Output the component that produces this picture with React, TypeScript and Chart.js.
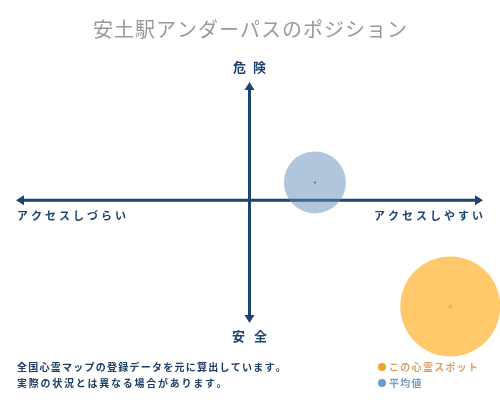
import { Chart, registerables } from 'chart.js'
import type { Plugin } from 'chart.js'
import { useEffect, useRef } from 'react'

Chart.register(...registerables)

const TITLE = '安土駅アンダーパスのポジション'
const AXIS_TOP = '危険'
const AXIS_BOTTOM = '安全'
const AXIS_LEFT = 'アクセスしづらい'
const AXIS_RIGHT = 'アクセスしやすい'
const NOTES = ['全国心霊マップの登録データを元に算出しています。', '実際の状況とは異なる場合があります。']

const SERIES_NAMES = ['この心霊スポット', '平均値']
// access (x), danger (y), bubble size
const SPOT_POINT = { x: 0.86, y: -0.9, size: 50 }
const AVERAGE_POINT = { x: 0.28, y: 0.15, size: 31 }

const NAVY = '#1b4470'
const FONT = '"Noto Sans CJK JP", "Noto Sans", sans-serif'

function spacedText(
  ctx: CanvasRenderingContext2D,
  text: string,
  x: number,
  y: number,
  spacing: number,
  align: 'left' | 'center' | 'right',
) {
  const chars = [...text]
  const widths = chars.map((c) => ctx.measureText(c).width)
  const total = widths.reduce((a, b) => a + b, 0) + spacing * (chars.length - 1)
  let cx = align === 'left' ? x : align === 'center' ? x - total / 2 : x - total
  ctx.textAlign = 'left'
  chars.forEach((c, i) => {
    ctx.fillText(c, cx, y)
    cx += widths[i] + spacing
  })
}

function arrowHead(ctx: CanvasRenderingContext2D, x: number, y: number, angle: number) {
  ctx.save()
  ctx.translate(x, y)
  ctx.rotate(angle)
  ctx.beginPath()
  ctx.moveTo(0, 0)
  ctx.lineTo(-8, -5)
  ctx.lineTo(-8, 5)
  ctx.closePath()
  ctx.fill()
  ctx.restore()
}

const axesPlugin: Plugin<'bubble'> = {
  id: 'positionAxes',
  beforeDatasetsDraw(chart) {
    const { ctx, chartArea, scales } = chart
    const x0 = scales.x.getPixelForValue(0)
    const y0 = scales.y.getPixelForValue(0)
    ctx.save()
    ctx.strokeStyle = NAVY
    ctx.fillStyle = NAVY
    ctx.lineWidth = 3
    ctx.beginPath()
    ctx.moveTo(chartArea.left + 4, y0)
    ctx.lineTo(chartArea.right - 4, y0)
    ctx.moveTo(x0, chartArea.top + 4)
    ctx.lineTo(x0, chartArea.bottom - 4)
    ctx.stroke()
    arrowHead(ctx, chartArea.left, y0, Math.PI)
    arrowHead(ctx, chartArea.right, y0, 0)
    arrowHead(ctx, x0, chartArea.top, -Math.PI / 2)
    arrowHead(ctx, x0, chartArea.bottom, Math.PI / 2)
    ctx.restore()
  },
  afterDraw(chart) {
    const { ctx, chartArea, scales } = chart
    const x0 = scales.x.getPixelForValue(0)
    const y0 = scales.y.getPixelForValue(0)
    ctx.save()
    ctx.textBaseline = 'middle'

    ctx.fillStyle = '#999999'
    ctx.font = `20px ${FONT}`
    spacedText(ctx, TITLE, 250, 29, 1, 'center')

    ctx.fillStyle = NAVY
    ctx.font = `bold 13px ${FONT}`
    spacedText(ctx, AXIS_TOP, x0, chartArea.top - 15, 7, 'center')
    spacedText(ctx, AXIS_BOTTOM, x0, chartArea.bottom + 13, 9, 'center')
    ctx.font = `bold 11px ${FONT}`
    spacedText(ctx, AXIS_LEFT, chartArea.left + 1, y0 + 16, 3, 'left')
    spacedText(ctx, AXIS_RIGHT, chartArea.right, y0 + 16, 3, 'right')

    ctx.font = `bold 10px ${FONT}`
    ctx.fillStyle = '#1e3d66'
    spacedText(ctx, NOTES[0], 17, 367, 1.25, 'left')
    spacedText(ctx, NOTES[1], 17, 383, 1.75, 'left')

    const legend = [
      { name: SERIES_NAMES[0], dot: '#f0a23c', text: '#d9a064' },
      { name: SERIES_NAMES[1], dot: '#6a9bc6', text: '#7d9cbf' },
    ]
    legend.forEach((item, i) => {
      const y = 367 + i * 16
      ctx.fillStyle = item.dot
      ctx.beginPath()
      ctx.arc(382, y, 4, 0, Math.PI * 2)
      ctx.fill()
      ctx.fillStyle = item.text
      spacedText(ctx, item.name, 389, y, 1.3, 'left')
    })
    ctx.restore()
  },
}

export default function App() {
  const canvasRef = useRef<HTMLCanvasElement>(null)

  useEffect(() => {
    document.body.style.margin = '0'
    if (!canvasRef.current) return
    const chart = new Chart(canvasRef.current, {
      type: 'bubble',
      data: {
        datasets: [
          {
            label: SERIES_NAMES[1],
            data: [{ x: AVERAGE_POINT.x, y: AVERAGE_POINT.y, r: AVERAGE_POINT.size }],
            backgroundColor: 'rgba(100, 140, 185, 0.5)',
            borderWidth: 0,
            clip: false,
          },
          {
            label: SERIES_NAMES[1] + ' center',
            data: [{ x: AVERAGE_POINT.x, y: AVERAGE_POINT.y, r: 1 }],
            backgroundColor: '#1b3050',
            borderWidth: 0,
            clip: false,
          },
          {
            label: SERIES_NAMES[0],
            data: [{ x: SPOT_POINT.x, y: SPOT_POINT.y, r: SPOT_POINT.size }],
            backgroundColor: 'rgba(255, 180, 50, 0.72)',
            borderWidth: 0,
            clip: false,
          },
          {
            label: SERIES_NAMES[0] + ' center',
            data: [{ x: SPOT_POINT.x, y: SPOT_POINT.y, r: 1.8 }],
            backgroundColor: '#f0a020',
            borderWidth: 0,
            clip: false,
          },
        ],
      },
      options: {
        animation: false,
        responsive: false,
        devicePixelRatio: 1,
        layout: { autoPadding: false, padding: { left: 16, right: 17, top: 82, bottom: 77 } },
        scales: {
          x: { display: false, min: -1, max: 1 },
          y: { display: false, min: -1.04, max: 1 },
        },
        plugins: {
          legend: { display: false },
          title: { display: false },
          tooltip: { enabled: false },
        },
      },
      plugins: [axesPlugin],
    })
    return () => chart.destroy()
  }, [])

  return <canvas ref={canvasRef} width={500} height={400} style={{ display: 'block' }} />
}
